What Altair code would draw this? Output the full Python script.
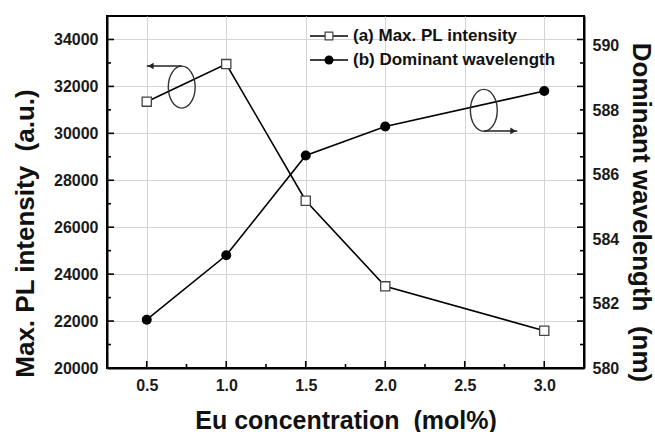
import altair as alt
import pandas as pd

# ---------------- data ----------------
conc = [0.5, 1.0, 1.5, 2.0, 3.0]
pl_intensity = [31350, 32950, 27130, 23480, 21590]
wavelength = [581.5, 583.5, 586.6, 587.5, 588.6]

x_major = [0.5, 1.0, 1.5, 2.0, 2.5, 3.0]
x_minor = [0.75, 1.25, 1.75, 2.25, 2.75]
pl_major = [22000, 24000, 26000, 28000, 30000, 32000, 34000]
pl_axis_values = [20000, 22000, 24000, 26000, 28000, 30000, 32000, 34000]
pl_minor = [21000, 23000, 25000, 27000, 29000, 31000, 33000]
wl_axis_values = [580, 582, 584, 586, 588, 590]

legend_labels = ["(a) Max. PL intensity", "(b) Dominant wavelength"]
x_title = "Eu concentration \u00a0(mol%)"
pl_title = "Max. PL intensity \u00a0(a.u.)"
wl_title = "Dominant wavelength \u00a0(nm)"

# annotation ellipses / arrows (data coordinates)
ell_pl_x, ell_pl_y = [0.72], [31970]
arr_pl_from, arr_pl_to, arr_pl_y = [0.72], [0.5], [32870]
ell_wl_x, ell_wl_y = [2.62], [588.0]
arr_wl_from, arr_wl_to, arr_wl_y = [2.62], [2.83], [587.36]

# ---------------- layout ----------------
W, H = 477, 352
FONT = "Liberation Sans"
X_DOM = [0.25, 3.25]
PL_DOM = [20000, 35000]
WL_DOM = [580, 590.93]

xs = alt.Scale(domain=X_DOM, nice=False, zero=False)
pls = alt.Scale(domain=PL_DOM, nice=False, zero=False)
wls = alt.Scale(domain=WL_DOM, nice=False, zero=False)

main = pd.DataFrame({"x": conc, "pl": pl_intensity, "wl": wavelength})

x_axis = alt.Axis(
    title=x_title, values=x_major, format=".1f",
    grid=True, gridColor="#d4d4d4", gridWidth=1,
    ticks=False, tickSize=0, labelPadding=9,
    labelFont=FONT, labelFontSize=16, labelFontWeight="bold", labelColor="#1a1a1a",
    titleFont=FONT, titleFontSize=25, titleFontWeight="bold", titleColor="#111",
    titleY=52, titleBaseline="middle",
    domainColor="black", domainWidth=2,
)
pl_axis = alt.Axis(
    title=pl_title, values=pl_axis_values, format="d",
    grid=True, gridColor="#d4d4d4", gridWidth=1,
    ticks=False, tickSize=0, labelPadding=9,
    labelFont=FONT, labelFontSize=16, labelFontWeight="bold", labelColor="#1a1a1a",
    titleFont=FONT, titleFontSize=26, titleFontWeight="bold", titleColor="#111",
    titleX=-82, titleY=217, titleBaseline="middle", titleAlign="center", titleAngle=270,
    domainColor="black", domainWidth=2,
)
wl_axis = alt.Axis(
    title=wl_title, orient="right", values=wl_axis_values, format="d",
    grid=False, ticks=False, tickSize=0, labelPadding=8,
    labelFont=FONT, labelFontSize=16, labelFontWeight="bold", labelColor="#1a1a1a",
    titleFont=FONT, titleFontSize=26, titleFontWeight="bold", titleColor="#111",
    titleX=56, titleY=196, titleBaseline="middle", titleAlign="center", titleAngle=90,
    domainColor="black", domainWidth=2,
)

def X(field):
    return alt.X(field, scale=xs, axis=x_axis)

def YP(field):
    return alt.Y(field, scale=pls, axis=pl_axis)

def YW(field):
    return alt.Y(field, scale=wls, axis=wl_axis)

# ---------- PL group ----------
pl_line = alt.Chart(main).mark_line(color="black", strokeWidth=1.6).encode(
    x=X("x:Q"), y=YP("pl:Q"),
)
pl_pts = alt.Chart(main).mark_point(
    shape="square", size=85, fill="white", fillOpacity=1, stroke="#444",
    strokeWidth=1.3, opacity=1
).encode(x=X("x:Q"), y=YP("pl:Q"))

def y_ticks(values, length, right=False):
    df = pd.DataFrame({"v": values})
    if right:
        xa, xb = alt.value(W), alt.value(W - length)
    else:
        xa, xb = alt.value(0), alt.value(length)
    return alt.Chart(df).mark_rule(color="black", strokeWidth=1.6).encode(
        y=YP("v:Q"), x=xa, x2=xb
    )

def x_ticks(values, length):
    df = pd.DataFrame({"v": values})
    return alt.Chart(df).mark_rule(color="black", strokeWidth=1.6).encode(
        x=X("v:Q"), y=alt.value(H), y2=alt.value(H - length)
    )

ELLIPSE = "M -0.64 0 A 0.64 1 0 1 0 0.64 0 A 0.64 1 0 1 0 -0.64 0 Z"

ell1 = alt.Chart(pd.DataFrame({"x": ell_pl_x, "y": ell_pl_y})).mark_point(
    shape=ELLIPSE, size=1764, filled=False, stroke="#333", strokeWidth=1.4, opacity=1
).encode(x=X("x:Q"), y=YP("y:Q"))
arr1_df = pd.DataFrame({"a": arr_pl_from, "b": arr_pl_to, "y": arr_pl_y})
arr1 = alt.Chart(arr1_df).mark_rule(color="#222", strokeWidth=1.4).encode(
    x=X("a:Q"), x2="b:Q", y=YP("y:Q")
)
arr1_head = alt.Chart(arr1_df).mark_point(
    shape="triangle-left", size=45, filled=True, color="#222", opacity=1, xOffset=4
).encode(x=X("b:Q"), y=YP("y:Q"))

# legend (manual)
def legend_row(i, shape, ypix):
    one = pd.DataFrame({"label": [legend_labels[i]]})
    line = alt.Chart(one).mark_rule(color="black", strokeWidth=1.6).encode(
        x=alt.value(203), x2=alt.value(241), y=alt.value(ypix)
    )
    if shape == "square":
        sym = alt.Chart(one).mark_point(
            shape="square", size=60, fill="white", fillOpacity=1, stroke="#444",
            strokeWidth=1.2, opacity=1
        ).encode(x=alt.value(222), y=alt.value(ypix))
    else:
        sym = alt.Chart(one).mark_circle(size=80, color="black", opacity=1).encode(
            x=alt.value(222), y=alt.value(ypix)
        )
    txt = alt.Chart(one).mark_text(
        align="left", baseline="middle", font=FONT, fontSize=17, fontWeight="bold",
        color="#111"
    ).encode(x=alt.value(246), y=alt.value(ypix), text="label:N")
    return [line, sym, txt]

legend_layers = legend_row(0, "square", 20) + legend_row(1, "circle", 44)

pl_group = alt.layer(
    pl_line,
    y_ticks(pl_major, 7), y_ticks(pl_minor, 4),
    y_ticks(pl_major, 7, right=True), y_ticks(pl_minor, 4, right=True),
    x_ticks(x_major, 7), x_ticks(x_minor, 4),
    ell1, arr1, arr1_head, pl_pts, *legend_layers
)

# ---------- wavelength group ----------
wl_line = alt.Chart(main).mark_line(color="black", strokeWidth=1.6).encode(
    x=X("x:Q"), y=YW("wl:Q"),
)
wl_pts = alt.Chart(main).mark_circle(size=100, color="black", opacity=1).encode(
    x=X("x:Q"), y=YW("wl:Q"),
)
ell2 = alt.Chart(pd.DataFrame({"x": ell_wl_x, "y": ell_wl_y})).mark_point(
    shape=ELLIPSE, size=1764, filled=False, stroke="#333", strokeWidth=1.4, opacity=1
).encode(x=X("x:Q"), y=YW("y:Q"))
arr2_df = pd.DataFrame({"a": arr_wl_from, "b": arr_wl_to, "y": arr_wl_y})
arr2 = alt.Chart(arr2_df).mark_rule(color="#222", strokeWidth=1.4).encode(
    x=X("a:Q"), x2="b:Q", y=YW("y:Q")
)
arr2_head = alt.Chart(arr2_df).mark_point(
    shape="triangle-right", size=45, filled=True, color="#222", opacity=1, xOffset=-4
).encode(x=X("b:Q"), y=YW("y:Q"))

wl_group = alt.layer(wl_line, ell2, arr2, arr2_head, wl_pts)

chart = (
    alt.layer(pl_group, wl_group)
    .resolve_scale(y="independent")
    .properties(
        width=W, height=H,
        autosize=alt.AutoSizeParams(type="none"),
        padding={"left": 107, "top": 16, "right": 71, "bottom": 64},
        background="white",
    )
    .configure_view(stroke="black", strokeWidth=2)
)

chart.save("out.html", embed_options={"renderer": "svg", "actions": False})
